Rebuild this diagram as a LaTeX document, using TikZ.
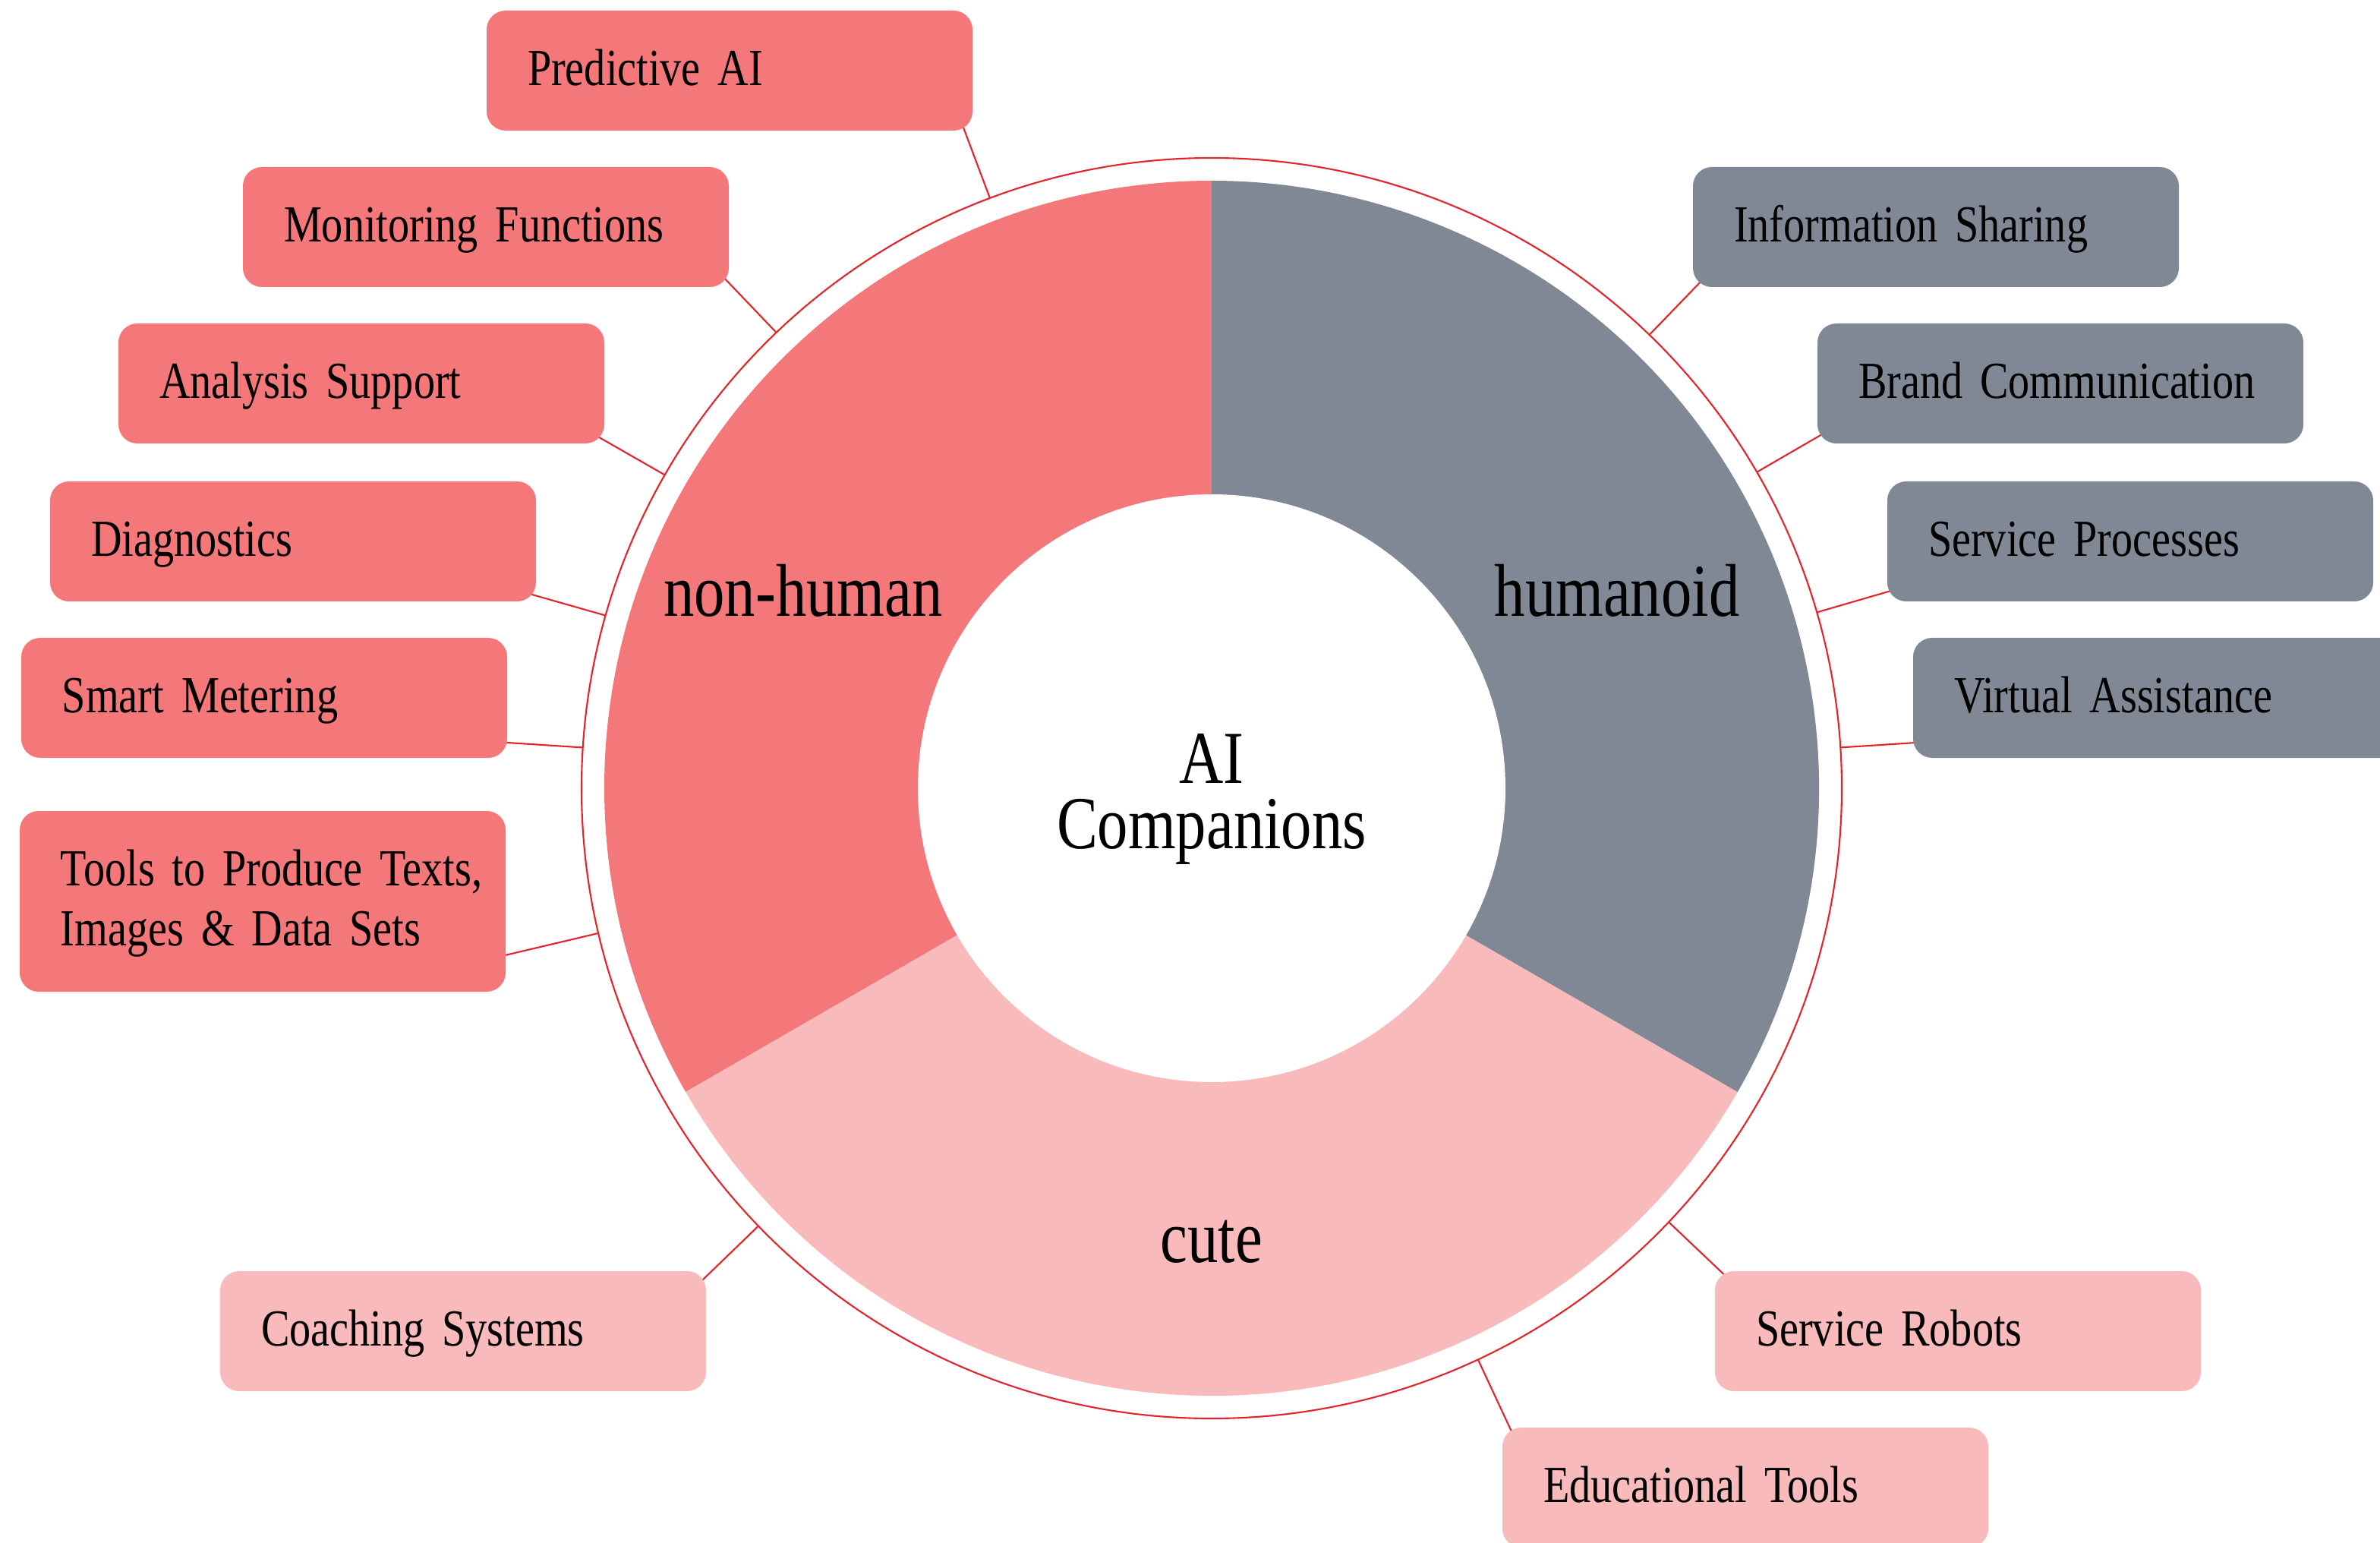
\documentclass[tikz,border=0pt]{standalone}
\usepackage{fontspec}
\setmainfont[FakeStretch=0.82]{Liberation Serif}
\usetikzlibrary{calc}
\definecolor{cred}{HTML}{F4777A}
\definecolor{cgray}{HTML}{7F8894}
\definecolor{cpink}{HTML}{F9BABC}
\definecolor{cline}{HTML}{E3242B}
\newcommand{\tightspace}{\fontdimen2\font=0.17em\relax\fontdimen3\font=0.05em\relax\fontdimen4\font=0.05em\relax}
\begin{document}
\begin{tikzpicture}[
  box/.style={rectangle, rounded corners=0.25cm, minimum height=1.58cm,
    text width=5.32cm, inner xsep=0.54cm, inner ysep=0pt, align=left,
    font=\fontsize{19.5}{22.4}\selectfont\tightspace, text height=16.4pt, text depth=5.5pt},
  boxr/.style={box, fill=cred},
  boxg/.style={box, fill=cgray},
  boxp/.style={box, fill=cpink},
  biglabel/.style={font=\fontsize{28}{23}\selectfont, anchor=base, inner sep=0pt},
  conn/.style={draw=cline, line width=0.6pt},
]
\clip (0,0) rectangle (31.35,20.31);
\fill[white] (0,0) rectangle (31.35,20.31);
\coordinate (o) at (15.96,9.93);

% donut
\fill[cred] (o) -- ++(90:8) arc[start angle=90, end angle=210, radius=8] -- cycle;
\fill[cpink] (o) -- ++(210:8) arc[start angle=210, end angle=330, radius=8] -- cycle;
\fill[cgray] (o) -- ++(-30:8) arc[start angle=-30, end angle=90, radius=8] -- cycle;
\fill[white] (o) circle (3.87);
\draw[conn] (o) circle (8.3);

% connector end points
\path (o) ++(110.6:8.3) coordinate (a1) (o) ++(110.6:9.6) coordinate (b1);
\path (o) ++(133.7:8.3) coordinate (a2) (o) ++(133.7:9.8) coordinate (b2);
\path (o) ++(150.2:8.3) coordinate (a3) (o) ++(150.2:9.8) coordinate (b3);
\path (o) ++(164.1:8.3) coordinate (a4) (o) ++(164.1:9.8) coordinate (b4);
\path (o) ++(176.3:8.3) coordinate (a5) (o) ++(176.3:9.8) coordinate (b5);
\path (o) ++(193.3:8.3) coordinate (a6) (o) ++(193.3:10.0) coordinate (b6);
\path (o) ++(224.0:8.3) coordinate (a7) (o) ++(224.0:9.8) coordinate (b7);
\path (o) ++(46.0:8.3) coordinate (a8) (o) ++(46.0:9.8) coordinate (b8);
\path (o) ++(30.1:8.3) coordinate (a9) (o) ++(30.1:9.8) coordinate (b9);
\path (o) ++(16.2:8.3) coordinate (a10) (o) ++(16.2:9.8) coordinate (b10);
\path (o) ++(3.7:8.3) coordinate (a11) (o) ++(3.7:9.8) coordinate (b11);
\path (o) ++(-43.5:8.3) coordinate (a12) (o) ++(-43.5:9.8) coordinate (b12);
\path (o) ++(-65.0:8.3) coordinate (a13) (o) ++(-65.0:9.8) coordinate (b13);
\foreach \i in {1,...,13} { \draw[conn] (a\i) -- (b\i); }

% boxes
\node[boxr] (pa) at (9.61,19.38) {Predictive AI};
\node[boxr] (pm) at (6.40,17.32) {Monitoring Functions};
\node[boxr] (pn) at (4.76,15.26) {Analysis Support};
\node[boxr] (pd) at (3.86,13.18) {Diagnostics};
\node[boxr] (ps) at (3.48,11.12) {Smart Metering};
\node[boxr, minimum height=2.38cm, text depth=27.9pt] (pt) at (3.46,8.44) {\makebox[5.32cm][l]{Tools to Produce Texts,}\\Images \& Data Sets};
\node[boxp] (pc) at (6.10,2.78) {Coaching Systems};
\node[boxg] (hi) at (25.50,17.32) {Information Sharing};
\node[boxg] (hb) at (27.14,15.26) {Brand Communication};
\node[boxg] (hs) at (28.06,13.18) {Service Processes};
\node[boxg] (hv) at (28.40,11.12) {Virtual Assistance};
\node[boxp] (cr) at (25.79,2.78) {Service Robots};
\node[boxp] (ce) at (22.99,0.72) {Educational Tools};

% labels
\node[biglabel] (lnh) at (10.58,12.19) {non-human};
\node[biglabel] (lhu) at (21.30,12.19) {humanoid};
\node[biglabel] (lcu) at (15.96,3.69) {cute};
\node[font=\fontsize{28}{24.5}\selectfont, align=center, inner sep=0pt, text depth=0pt] (ctr) at (15.96,9.89) {AI\\Companions};
\end{tikzpicture}
\end{document}
